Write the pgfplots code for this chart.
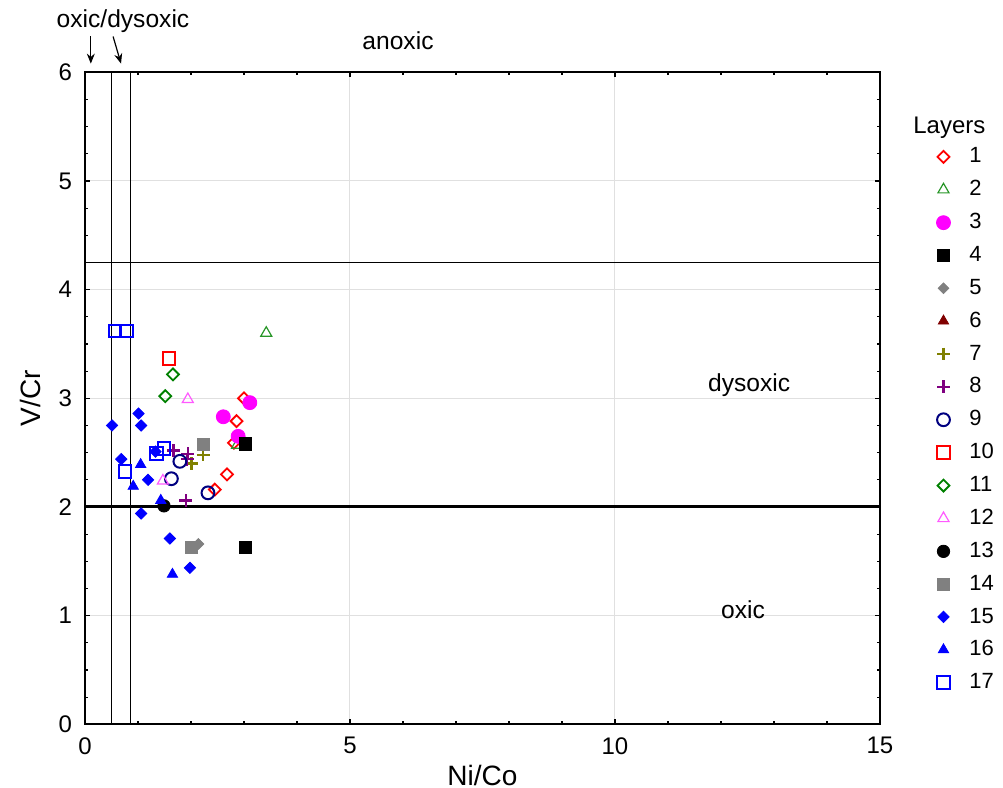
\documentclass[border=0pt]{standalone}
\usepackage{pgfplots}
\pgfplotsset{compat=1.18}
\usepackage{fontspec}
\setmainfont{Liberation Sans}
\usetikzlibrary{arrows.meta}

\definecolor{lgreen}{RGB}{40,150,40}
\definecolor{dgreen}{RGB}{0,128,0}
\definecolor{lmagenta}{RGB}{255,0,255}
\definecolor{lpink}{RGB}{255,90,255}
\definecolor{lgrey}{RGB}{128,128,128}
\definecolor{ldred}{RGB}{128,0,0}
\definecolor{lolive}{RGB}{128,128,0}
\definecolor{lpurple}{RGB}{128,0,128}
\definecolor{lnavy}{RGB}{0,0,128}
\definecolor{lblue}{RGB}{0,0,255}

\begin{document}
\begin{tikzpicture}
\path[use as bounding box] (-42.5pt,-31.85pt) rectangle (459pt,362.15pt);
\begin{axis}[
  at={(0pt,0pt)}, anchor=south west,
  scale only axis, width=397.5pt, height=326pt,
  xmin=0, xmax=15, ymin=0, ymax=6,
  xtick={0,5,10,15}, ytick={0,1,2,3,4,5,6},
  minor x tick num=4, minor y tick num=3,
  tick align=inside,
  major tick length=2.5pt, minor tick length=1.5pt,
  every tick/.style={black, line width=0.6pt},
  grid=major, major grid style={black!12, line width=0.5pt},
  axis line style={line width=1pt},
  tick label style={font=\fontsize{12}{14}\selectfont},
  xticklabel style={yshift=-3pt},
  yticklabel style={xshift=-3pt},
  /pgf/number format/assume math mode=true,
  xlabel={Ni/Co}, ylabel={V/Cr},
  every axis x label/.style={at={(axis description cs:0.5,-0.078)}, anchor=center,
    font=\fontsize{14}{16}\selectfont},
  every axis y label/.style={at={(axis description cs:-0.068,0.5)}, anchor=center, rotate=90,
    font=\fontsize{14}{16}\selectfont},
  clip=false,
  only marks,
  legend image code/.code={\draw[mark repeat=2,mark phase=2,#1] plot coordinates {(0pt,0pt) (4pt,0pt) (8pt,0pt)};},
  legend style={at={(axis description cs:1.063,0.891)}, anchor=north west, draw=none, fill=none,
    font=\fontsize{11}{13}\selectfont, row sep=7.3pt, column sep=9.5pt,
    nodes={inner sep=0pt}},
  legend cell align=left,
]
% zone boundaries
\draw[line width=0.75pt] (axis cs:0.5,0) -- (axis cs:0.5,6);
\draw[line width=0.75pt] (axis cs:0.86,0) -- (axis cs:0.86,6);
\draw[line width=0.6pt] (axis cs:0,4.25) -- (axis cs:15,4.25);
\draw[line width=1.5pt] (axis cs:0,2) -- (axis cs:15,2);

% layer 1
\addplot[mark=square, mark options={rotate=45, line width=0.9pt}, mark size=2.1pt, color=red]
  coordinates {(3.00,3.00) (2.86,2.79) (2.81,2.59) (2.68,2.30) (2.45,2.16)};
\addlegendentry{1}
% layer 2
\addplot[mark=triangle, mark options={line width=0.6pt}, mark size=3.2pt, color=lgreen]
  coordinates {(3.42,3.60) (2.87,2.57)};
\addlegendentry{2}
% layer 3
\addplot[mark=*, mark size=3.5pt, color=lmagenta]
  coordinates {(3.11,2.96) (2.61,2.83) (2.89,2.65)};
\addlegendentry{3}
% layer 4
\addplot[mark=square*, mark size=3.1pt, color=black]
  coordinates {(3.03,2.58) (3.03,1.63)};
\addlegendentry{4}
% layer 5
\addplot[mark=square*, mark options={rotate=45}, mark size=1.9pt, color=lgrey]
  coordinates {(2.14,1.66)};
\addlegendentry{5}
% layer 6
\addlegendimage{only marks, mark=triangle*, mark size=3pt, color=ldred}
\addlegendentry{6}
% layer 7
\addplot[mark=+, mark options={line width=1.1pt}, mark size=3.2pt, color=lolive]
  coordinates {(2.23,2.48) (2.01,2.40)};
\addlegendentry{7}
% layer 8
\addplot[mark=+, mark options={line width=1.1pt}, mark size=3.2pt, color=lpurple]
  coordinates {(1.67,2.52) (1.94,2.49) (1.93,2.44) (1.90,2.06)};
\addlegendentry{8}
% layer 9
\addplot[mark=o, mark options={line width=1pt}, mark size=3.2pt, color=lnavy]
  coordinates {(1.79,2.42) (1.63,2.26) (2.32,2.13)};
\addlegendentry{9}
% layer 10
\addplot[mark=square, mark options={line width=1pt}, mark size=3.2pt, color=red]
  coordinates {(1.585,3.37)};
\addlegendentry{10}
% layer 11
\addplot[mark=square, mark options={rotate=45, line width=0.9pt}, mark size=2.1pt, color=dgreen]
  coordinates {(1.66,3.22) (1.515,3.02)};
\addlegendentry{11}
% layer 12
\addplot[mark=triangle, mark options={line width=0.6pt}, mark size=3.2pt, color=lpink]
  coordinates {(1.94,2.99) (1.47,2.24)};
\addlegendentry{12}
% layer 13
\addplot[mark=*, mark size=3.1pt, color=black]
  coordinates {(1.49,2.01)};
\addlegendentry{13}
% layer 14
\addplot[mark=square*, mark size=3pt, color=lgrey]
  coordinates {(2.23,2.58) (2.01,1.63)};
\addlegendentry{14}
% layer 15
\addplot[mark=square*, mark options={rotate=45}, mark size=2pt, color=lblue]
  coordinates {(0.51,2.75) (1.01,2.86) (1.06,2.75) (0.685,2.44) (1.19,2.25)
               (1.06,1.94) (1.60,1.71) (1.98,1.44) (1.33,2.51)};
\addlegendentry{15}
% layer 16
\addplot[mark=triangle*, mark size=3pt, color=lblue]
  coordinates {(1.05,2.39) (0.91,2.19) (1.43,2.06) (1.65,1.38)};
\addlegendentry{16}
% layer 17
\addplot[mark=square, mark options={line width=1pt}, mark size=3.2pt, color=lblue]
  coordinates {(0.566,3.62) (0.787,3.62) (0.755,2.33) (1.35,2.49) (1.49,2.54)};
\addlegendentry{17}

% zone names
\node[font=\fontsize{12.3}{14}\selectfont, anchor=base] at (axis cs:12.53,3.06) {dysoxic};
\node[font=\fontsize{12.3}{14}\selectfont, anchor=base] at (axis cs:12.415,0.978) {oxic};
\node[font=\fontsize{12.3}{14}\selectfont, anchor=base] at (axis cs:5.906,6.214) {anoxic};
\node[font=\fontsize{12.3}{14}\selectfont, anchor=base] at (axis cs:0.717,6.414) {oxic/dysoxic};
\draw[line width=0.6pt, -{Stealth[length=5pt,width=4pt]}] (axis cs:0.11,6.33) -- (axis cs:0.11,6.08);
\draw[line width=0.6pt, -{Stealth[length=5pt,width=4pt]}] (axis cs:0.53,6.33) -- (axis cs:0.68,6.08);

\node[font=\fontsize{12}{14}\selectfont, anchor=base west, inner sep=0pt] at (axis description cs:1.0415,0.9069) {Layers};
\end{axis}
\end{tikzpicture}
\end{document}
